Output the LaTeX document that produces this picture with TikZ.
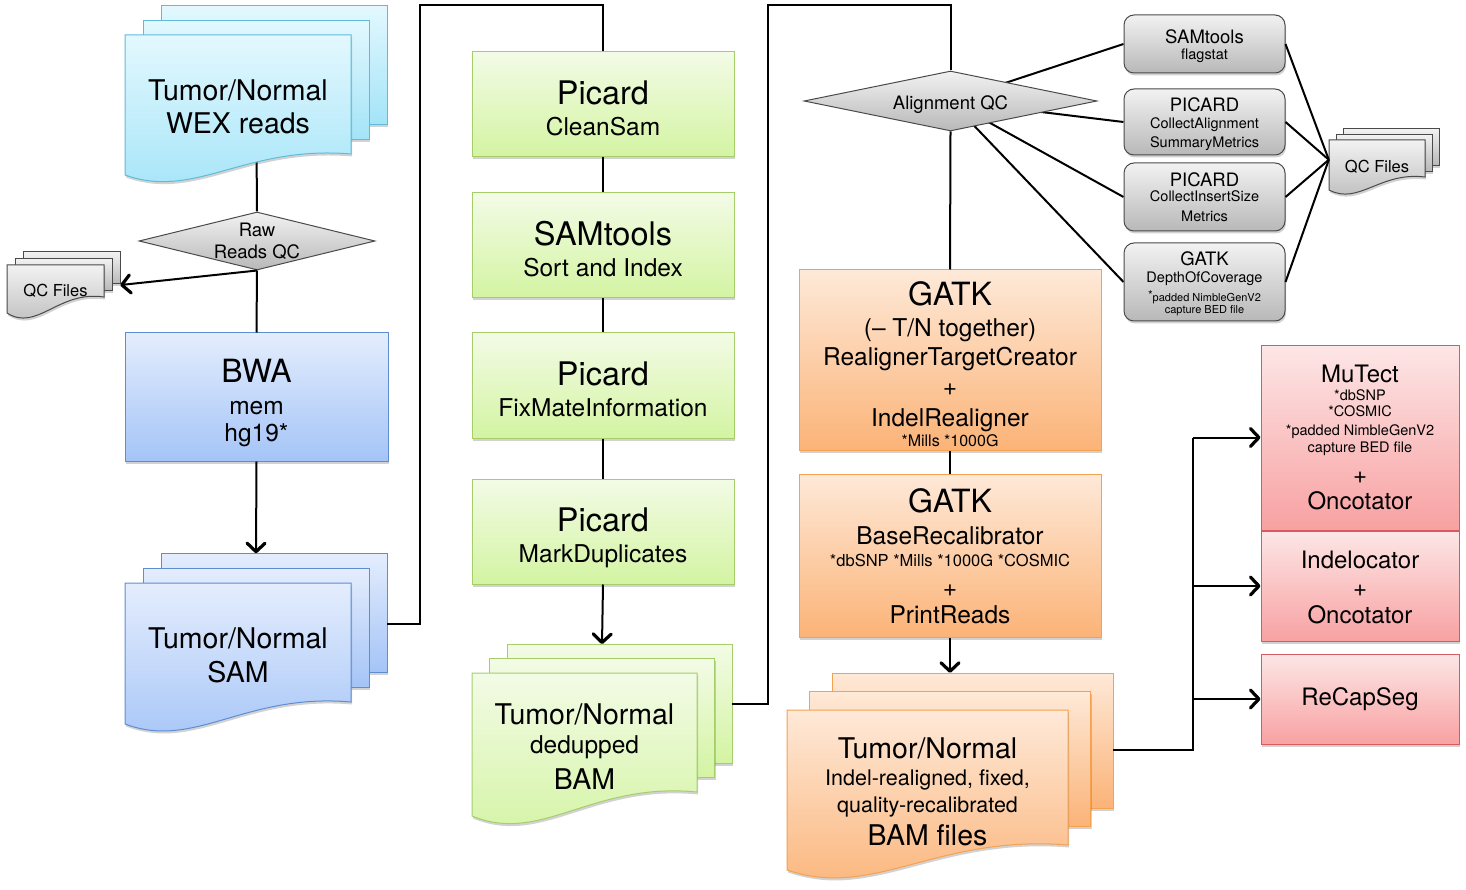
\documentclass[tikz,border=0pt]{standalone}
\usepackage{fontspec}
\setmainfont{TeX Gyre Heros}
\usetikzlibrary{arrows.meta, positioning, shapes.geometric, shadows}

\definecolor{cyantop}{HTML}{E3F8FE}
\definecolor{cyanbot}{HTML}{A3E4F8}
\definecolor{cyanline}{HTML}{5FBCD9}
\definecolor{bluetop}{HTML}{E4EDFD}
\definecolor{bluebot}{HTML}{A4C4F7}
\definecolor{blueline}{HTML}{5E8DD2}
\definecolor{greentop}{HTML}{F3FBE6}
\definecolor{greenbot}{HTML}{D3F4A2}
\definecolor{greenline}{HTML}{A5CE6B}
\definecolor{orangetop}{HTML}{FEE9D8}
\definecolor{orangebot}{HTML}{FBB377}
\definecolor{orangeline}{HTML}{F4A150}
\definecolor{redtop}{HTML}{FDE6E6}
\definecolor{redbot}{HTML}{F8A1A2}
\definecolor{redline}{HTML}{D65A5E}
\definecolor{graytop}{HTML}{F2F2F2}
\definecolor{graybot}{HTML}{B8B8B8}
\definecolor{grayline}{HTML}{4A4A4A}

\pgfdeclarelayer{bg}
\pgfsetlayers{bg,main}

\newcommand{\fsz}[2]{\fontsize{#1}{#2}\selectfont}
\newcommand{\padtop}[1]{\rule{0pt}{#1}}

% stack of three sheets: name, style, left, top, width, height, offset, wave, text
\newcommand{\docstack}[9]{%
  \pgfmathsetmacro{\stkdx}{#7}%
  \pgfmathsetmacro{\stkdy}{0.82*#7}%
  \draw[#2] (#3+2*\stkdx, #4-2*\stkdy) rectangle ++(#5, #6);
  \draw[#2] (#3+\stkdx, #4-\stkdy) rectangle ++(#5, #6);
  \draw[#2] (#3, #4) -- ++(#5, 0) -- ++(0, #6)
    .. controls (#3+0.53*#5, #4+#6-0.43*#8) and (#3+0.31*#5, #4+#6+2.2*#8) .. (#3, #4+#6+#8) -- cycle;
  \pgfmathsetmacro{\stkw}{#5+2*\stkdx}%
  \pgfmathsetmacro{\stkh}{#6+2*\stkdy}%
  \node[inner sep=0pt, minimum width=\stkw pt, minimum height=\stkh pt] (#1-stack)
    at (#3+#5/2+\stkdx, #4+#6/2-\stkdy) {};
  \node[doctext] (#1) at (#3+#5/2, #4+#6/2+#8/2+2) {#9};
}

\begin{document}
\begin{tikzpicture}[
    x=1pt, y=-1pt,
    font=\fsz{24.5}{30},
    link/.style={line width=2pt},
    arrow/.style={line width=2pt, -{Straight Barb[length=8.5pt, width=18pt, line width=3.2pt, round]}},
    softshadow/.style={drop shadow={shadow xshift=1pt, shadow yshift=-2.5pt, opacity=0.25, fill=black!70}},
    box/.style={draw, rectangle, align=center, line width=1pt, softshadow},
    bluebox/.style={box, draw=blueline, top color=bluetop, bottom color=bluebot, font=\fsz{24.5}{29}},
    greenbox/.style={box, draw=greenline, top color=greentop, bottom color=greenbot,
      minimum width=262pt, minimum height=105pt, font=\fsz{24.5}{31}},
    orangebox/.style={box, draw=orangeline, top color=orangetop, bottom color=orangebot,
      minimum width=302pt, font=\fsz{24.5}{30}},
    redbox/.style={box, draw=redline, top color=redtop, bottom color=redbot,
      minimum width=198pt, font=\fsz{24}{29}},
    qcbox/.style={box, rounded corners=10pt, draw=grayline, top color=graytop, bottom color=graybot,
      minimum width=161pt, font=\fsz{14.5}{18}},
    qcdiamond/.style={diamond, aspect=4, inner sep=0pt, draw=grayline, line width=1pt,
      top color=graytop, bottom color=graybot, align=center, font=\fsz{18.5}{22}},
    doctext/.style={align=center, font=\fsz{28.5}{33.3}},
    cyandoc/.style={draw=cyanline, line width=1pt, top color=cyantop, bottom color=cyanbot, softshadow},
    bluedoc/.style={draw=blueline, line width=1pt, top color=bluetop, bottom color=bluebot, softshadow},
    greendoc/.style={draw=greenline, line width=1pt, top color=greentop, bottom color=greenbot, softshadow},
    orangedoc/.style={draw=orangeline, line width=1pt, top color=orangetop, bottom color=orangebot, softshadow},
    graydoc/.style={draw=grayline, line width=1pt, top color=graytop, bottom color=graybot, softshadow}
    ]
    \useasboundingbox (0,0) rectangle (1466,890);

    % ---- Reads and alignment ----
    \docstack{wex}{cyandoc}{125}{35}{226}{119}{18}{21}{Tumor/Normal\\WEX reads}

    \node[qcdiamond, minimum width=236pt, minimum height=58pt] (rawqc) at (257,241) {Raw\\Reads QC};

    \docstack{qcleft}{graydoc}{7}{265}{97}{32}{8}{16}{\fsz{16.5}{16.5}QC Files}

    \node[bluebox, minimum width=263pt, minimum height=128pt] (bwa) at (256.5,397)
    {{\fsz{32}{32}\padtop{35pt}BWA}\\[2.5pt]mem\\[-2pt]hg19*};

    \docstack{sam}{bluedoc}{125}{583}{226}{119}{18}{22}{Tumor/Normal\\SAM}

    % ---- Picard / SAMtools chain ----
    \node[greenbox] (cleansam) at (603,104.5) {{\fsz{32.5}{32.5}\padtop{31pt}Picard}\\CleanSam};
    \node[greenbox, below=35pt of cleansam] (sortidx) {{\fsz{32.5}{32.5}\padtop{31pt}SAMtools}\\Sort and Index};
    \node[greenbox, below=34pt of sortidx] (fixmate) {{\fsz{32.5}{32.5}\padtop{31pt}Picard}\\FixMateInformation};
    \node[greenbox, below=40pt of fixmate] (markdup) {{\fsz{32.5}{32.5}\padtop{36pt}Picard}\\MarkDuplicates};

    \docstack{dedup}{greendoc}{472}{673}{225}{119}{17.5}{24}
    {Tumor/Normal\\[-4pt]{\fsz{24.5}{24.5}dedupped}\\[2.4pt]BAM}

    % ---- Alignment QC ----
    \node[qcdiamond, minimum width=293pt, minimum height=60pt] (alignqc) at (950.5,101) {\padtop{21pt}Alignment QC};

    \node[qcbox, minimum height=58pt] (flagstat) at (1204.5,44)
    {{\fsz{18.5}{18.5}\padtop{18pt}SAMtools}\\[-1.5pt]flagstat};
    \node[qcbox, minimum height=66pt, below=15pt of flagstat] (alnmetrics)
    {{\fsz{18.5}{18.5}\padtop{17.5pt}PICARD}\\[-0.7pt]CollectAlignment\\[0.4pt]SummaryMetrics};
    \node[qcbox, minimum height=68pt, below=7pt of alnmetrics] (insmetrics)
    {{\fsz{18.5}{18.5}PICARD}\\[-2.3pt]CollectInsertSize\\[1.3pt]Metrics};
    \node[qcbox, minimum height=78pt, below=11pt of insmetrics] (depthcov)
    {{\fsz{18.5}{18.5}\padtop{17.5pt}GATK}\\[-1.4pt]DepthOfCoverage\\[1.2pt]{\fsz{11}{11}\raisebox{1.5pt}{\fsz{12}{12}*}padded NimbleGenV2}\\[-6pt]{\fsz{11}{11}capture BED file}};

    \docstack{qcright}{graydoc}{1329}{140}{96}{37}{7}{13}{\fsz{16.5}{16.5}QC Files}
    \coordinate (qcin) at ([yshift=-7pt]qcright-stack.west);

    % ---- GATK ----
    \node[orangebox, minimum height=180pt] (realign) at (950,360)
    {{\fsz{32}{32}\padtop{32pt}GATK}\\[0.7pt](-- T/N together)\\[-0.7pt]RealignerTargetCreator\\[0pt]+\\[1pt]IndelRealigner\\[-10pt]{\fsz{16}{16}*Mills *1000G}};
    \node[orangebox, minimum height=163pt, below=23pt of realign] (recal)
    {{\fsz{32}{32}\padtop{25pt}GATK}\\[2pt]BaseRecalibrator\\[-7.7pt]{\fsz{16.5}{16.5}*dbSNP *Mills *1000G *COSMIC}\\[0pt]+\\[-3.3pt]PrintReads};

    \docstack{bam}{orangedoc}{787}{710}{281}{135}{22.5}{25}
    {Tumor/Normal\\[-6.6pt]{\fsz{21.5}{21.5}Indel-realigned, fixed,}\\[-6.6pt]{\fsz{21.5}{21.5}quality-recalibrated}\\BAM files}

    % ---- Callers ----
    \node[redbox, minimum height=185pt] (mutect) at (1360,437.5)
    {{\fsz{24}{24}MuTect}\\[-11pt]{\fsz{14.5}{14.5}*dbSNP}\\[-12.7pt]{\fsz{14.5}{14.5}*COSMIC}\\[-10pt]{\fsz{14.5}{14.5}*padded NimbleGenV2}\\[-12.3pt]{\fsz{14.5}{14.5}capture BED file}\\[2pt]+\\[-3pt]Oncotator};
    \node[redbox, minimum height=110pt, below=0pt of mutect] (indel) {\padtop{21pt}Indelocator\\[-1.5pt]+\\[-1.5pt]Oncotator};
    \node[redbox, minimum height=90pt, below=12pt of indel] (recapseg) {ReCapSeg};

    % ---- Arrows ----
    \coordinate (turnA) at (420,5);
    \coordinate (turnB) at (768,5);
    \coordinate (fork) at (1193,437.5);

    \draw[link] (rawqc.south) -- (bwa.north);
    \draw[arrow] (rawqc.south) -- ([yshift=-10.6pt]qcleft-stack.east);
    \draw[arrow] (bwa.south) -- (sam-stack.north);
    \draw[link] ([yshift=4pt]sam-stack.east) -| (turnA) -| (cleansam.north);

    \draw[link] (cleansam.south) -- (sortidx.north);
    \draw[link] (sortidx.south) -- (fixmate.north);
    \draw[link] (fixmate.south) -- (markdup.north);
    \draw[arrow] (markdup.south) -- (dedup-stack.north);
    \draw[link] ([yshift=14pt]dedup-stack.east) -| (turnB) -| (alignqc.north);

    \draw[link] (alignqc.south) -- (realign.north);
    \draw[link] (realign.south) -- (recal.north);
    \draw[arrow] (recal.south) -- (bam-stack.north);

    \draw[link] (flagstat.east) -- (qcin);
    \draw[link] (alnmetrics.east) -- (qcin);
    \draw[link] (insmetrics.east) -- (qcin);
    \draw[link] (depthcov.east) -- (qcin);

    \draw[link] ([yshift=9pt]bam-stack.east) -| (fork);
    \draw[arrow] (fork) -- (mutect.west);
    \draw[arrow] (fork |- indel.west) -- (indel.west);
    \draw[arrow] (fork |- recapseg.west) -- (recapseg.west);

    \begin{pgfonlayer}{bg}
    \draw[link] (wex-stack.center) -- (rawqc.north);
    \draw[link] (alignqc.center) -- (flagstat.west);
    \draw[link] (alignqc.center) -- (alnmetrics.west);
    \draw[link] (alignqc.center) -- (insmetrics.west);
    \draw[link] (alignqc.center) -- (depthcov.west);
    \end{pgfonlayer}

\end{tikzpicture}
\end{document}
